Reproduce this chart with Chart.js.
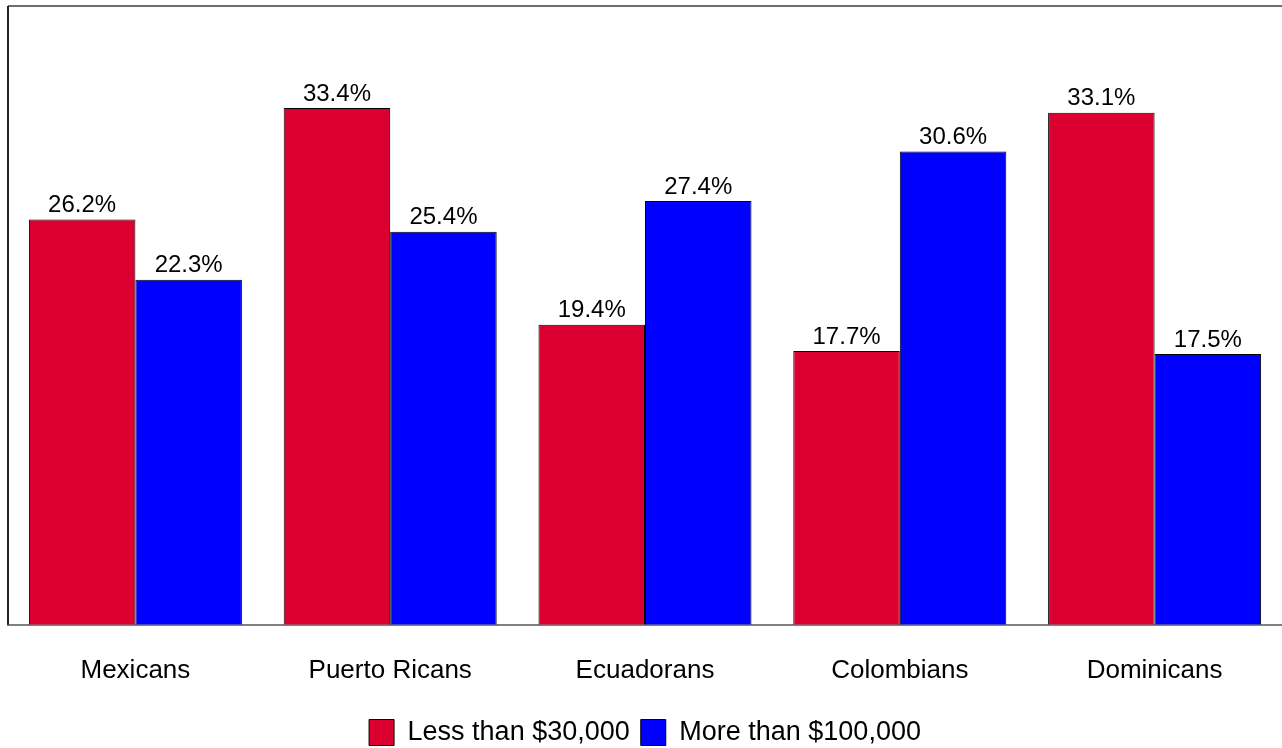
<!DOCTYPE html>
<html>
<head>
<meta charset="utf-8">
<script src="https://cdn.jsdelivr.net/npm/chart.js@4"></script>
<style>
  html, body { margin: 0; padding: 0; background: #fff; }
  #wrap { width: 1282px; height: 748px; }
</style>
</head>
<body>
<div id="wrap"><canvas id="myChart" width="1282" height="748"></canvas></div>
<script>
const categories = ['Mexicans', 'Puerto Ricans', 'Ecuadorans', 'Colombians', 'Dominicans'];
const lowIncome = [26.2, 33.4, 19.4, 17.7, 33.1];
const highIncome = [22.3, 25.4, 27.4, 30.6, 17.5];
const seriesNames = ['Less than $30,000', 'More than $100,000'];

const FONT = 'Arial, "Liberation Sans", sans-serif';

// value labels above bars + frame lines on top and left
const barLabels = {
  id: 'barLabels',
  afterDatasetsDraw(chart) {
    const ctx = chart.ctx;
    const area = chart.chartArea;
    ctx.save();
    ctx.strokeStyle = '#6e6e6e';
    ctx.lineWidth = 2;
    ctx.beginPath();
    ctx.moveTo(area.left, area.top);
    ctx.lineTo(chart.width, area.top);
    ctx.stroke();
    ctx.strokeStyle = '#222';
    ctx.beginPath();
    ctx.moveTo(area.left, area.top);
    ctx.lineTo(area.left, area.bottom);
    ctx.stroke();

    ctx.fillStyle = '#000';
    ctx.font = '24px ' + FONT;
    ctx.textAlign = 'center';
    ctx.textBaseline = 'bottom';
    chart.data.datasets.forEach((ds, i) => {
      chart.getDatasetMeta(i).data.forEach((bar, j) => {
        ctx.fillText(ds.data[j].toFixed(1) + '%', bar.x, bar.y - 2);
      });
    });
    ctx.restore();
  }
};

new Chart(document.getElementById('myChart'), {
  type: 'bar',
  data: {
    labels: categories,
    datasets: [
      {
        label: seriesNames[0],
        data: lowIncome,
        backgroundColor: '#dc0030',
        borderColor: '#000',
        borderWidth: 1
      },
      {
        label: seriesNames[1],
        data: highIncome,
        backgroundColor: '#0000ff',
        borderColor: '#000',
        borderWidth: 1
      }
    ]
  },
  options: {
    responsive: false,
    animation: false,
    layout: { padding: { left: 8, top: 6, right: 0, bottom: -8 } },
    datasets: { bar: { categoryPercentage: 0.836, barPercentage: 1 } },
    scales: {
      x: {
        grid: { display: false },
        border: { display: true, color: '#808080', width: 2 },
        ticks: { color: '#000', font: { size: 26, family: FONT }, padding: 22 }
      },
      y: {
        display: false,
        min: 0,
        max: 40
      }
    },
    plugins: {
      legend: {
        position: 'bottom',
        labels: {
          color: '#000',
          font: { size: 27, family: FONT },
          boxWidth: 25,
          boxHeight: 26,
          padding: 11
        }
      },
      tooltip: { enabled: false }
    }
  },
  plugins: [barLabels]
});
</script>
</body>
</html>
